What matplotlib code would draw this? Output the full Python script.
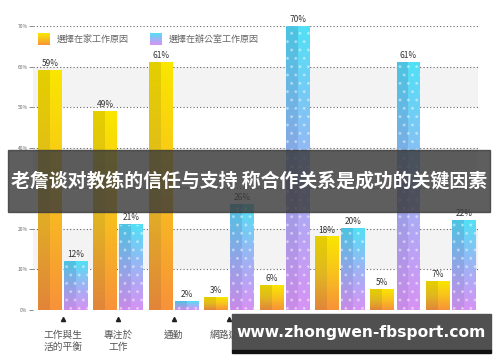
import numpy as np
import matplotlib.pyplot as plt
from matplotlib.patches import Rectangle
from matplotlib.colors import LinearSegmentedColormap

plt.rcParams['font.family'] = ['Noto Sans CJK TC', 'DejaVu Sans']

categories = ['工作與生\n活的平衡', '專注於\n工作', '通勤', '網路連接', '與同事協作',
              '飲食', '社交互動', '辦公室設施']
home = [59, 49, 61, 3, 6, 18, 5, 7]
office = [12, 21, 2, 26, 70, 20, 61, 22]
legend_labels = ['選擇在家工作原因', '選擇在辦公室工作原因']
title = '老詹谈对教练的信任与支持 称合作关系是成功的关键因素'
site = 'www.zhongwen-fbsport.com'

home_cmaps = [LinearSegmentedColormap.from_list('h1', ['#e2853a', '#e0b820', '#e4cf00']),
              LinearSegmentedColormap.from_list('h2', ['#f7923a', '#f8c21c', '#fae600'])]
office_cmaps = [LinearSegmentedColormap.from_list('o1', ['#c98be8', '#8fa5e6', '#4cc4e2']),
                LinearSegmentedColormap.from_list('o2', ['#d693f5', '#9cb4f4', '#52e0f6'])]

fig = plt.figure(figsize=(5, 3.62), dpi=100)
ax = fig.add_axes([0.066, 0.1436, 0.89, 0.7845])
ax.set_xlim(-0.54, 7.49)
ax.set_ylim(0, 70)

# alternating bands
for lo in (10, 30, 50):
    ax.axhspan(lo, lo + 10, color='#f3f3f3', zorder=0, lw=0)
for y in range(0, 71, 10):
    ax.axhline(y, color='#666666', ls=(0, (1, 2)), lw=0.8, zorder=1)

grad = np.linspace(0, 1, 100).reshape(-1, 1)
w = 0.43
off = 0.235


def gbar(xc, h, cmaps):
    for i, cm in enumerate(cmaps):
        x0 = xc - w / 2 + i * w / 2
        ax.imshow(grad, cmap=cm, origin='lower', aspect='auto',
                  extent=(x0, x0 + w / 2, 0, h), zorder=2)


x = np.arange(len(categories))
for i in x:
    gbar(i - off, home[i], home_cmaps)
    gbar(i + off, office[i], office_cmaps)
    ax.bar(i + off, office[i], width=w, fill=False, hatch='..',
           edgecolor=(1, 1, 1, 0.35), lw=0, zorder=3)
    ax.text(i - off, home[i] + 0.6, f'{home[i]}%', ha='center', va='bottom',
            fontsize=6, color='#333333', zorder=4)
    ax.text(i + off, office[i] + 0.6, f'{office[i]}%', ha='center', va='bottom',
            fontsize=6, color='#333333', zorder=4)

ax.set_xlim(-0.54, 7.49)
ax.set_ylim(0, 70)
ax.set_xticks(x)
ax.set_xticklabels(categories, fontsize=7, color='#555555', linespacing=1.3)
ax.tick_params(axis='x', length=0, pad=14)
ax.set_yticks(range(0, 71, 10))
ax.set_yticklabels([f'{v}%' for v in range(0, 71, 10)], fontsize=3.5, color='#666666')
ax.tick_params(axis='y', length=3, width=0.6, color='#777777', pad=1)
for s in ax.spines.values():
    s.set_visible(False)
for i in x:
    ax.plot(i, -2.2, marker='^', color='#222222', markersize=3, clip_on=False)

# legend
for k, (cms, lab, xl) in enumerate(zip([home_cmaps, office_cmaps], legend_labels, [38, 150])):
    la = fig.add_axes([xl / 500, 1 - 45 / 362, 12 / 500, 12 / 362])
    la.imshow(grad, cmap=cms[1], origin='lower', aspect='auto')
    la.axis('off')
    fig.text((xl + 19) / 500, 1 - 39 / 362, lab, fontsize=6.5, color='#666666', va='center')

# overlay banners
fig.patches.append(Rectangle((8 / 500, 1 - 212 / 362), 482 / 500, 62 / 362,
                             transform=fig.transFigure, color='#3a3a3a', alpha=0.82, zorder=10))
fig.text(249 / 500, 1 - 181 / 362, title, color='white', fontsize=13.6, fontweight='bold',
         ha='center', va='center', zorder=11,
         family=['Noto Sans CJK SC', 'DejaVu Sans'])
fig.patches.append(Rectangle((232 / 500, 1 - 350 / 362), 259 / 500, 36 / 362,
                             transform=fig.transFigure, color='#505050', zorder=10))
fig.patches.append(Rectangle((232 / 500, 1 - 353 / 362), 259 / 500, 3 / 362,
                             transform=fig.transFigure, color='#111111', zorder=10))
fig.text(361 / 500, 1 - 333 / 362, site, color='white', fontsize=11.2, fontweight='bold',
         ha='center', va='center', zorder=11, family='DejaVu Sans')

fig.savefig('out.png', dpi=100)
